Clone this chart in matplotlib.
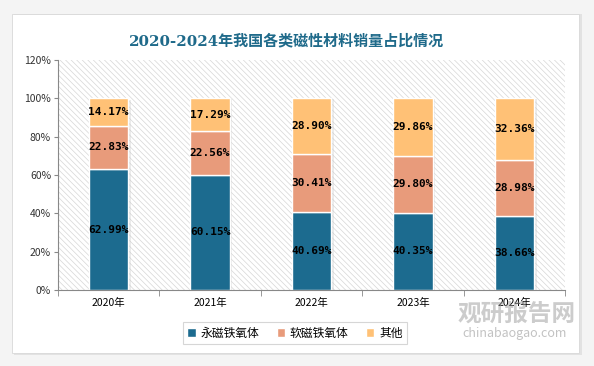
import numpy as np
import matplotlib.pyplot as plt
from matplotlib.patches import Rectangle

plt.rcParams['font.family'] = ['Noto Sans CJK SC', 'DejaVu Sans']
plt.rcParams['hatch.linewidth'] = 0.5

years = ['2020年', '2021年', '2022年', '2023年', '2024年']
yongci = [62.99, 60.15, 40.69, 40.35, 38.66]
ruanci = [22.83, 22.56, 30.41, 29.80, 28.98]
qita = [14.17, 17.29, 28.90, 29.86, 32.36]
names = ['永磁铁氧体', '软磁铁氧体', '其他']
colors = ['#1c6b8f', '#e89b7b', '#ffc176']

fig = plt.figure(figsize=(5.94, 3.66), dpi=100, facecolor='#f4f4f4')
# white card
fig.patches.append(Rectangle((14 / 594, 1 - 355 / 366), 568 / 594, 341 / 366,
                             transform=fig.transFigure, facecolor='#e2e2e2',
                             edgecolor='none', zorder=-2))
fig.patches.append(Rectangle((12 / 594, 1 - 353 / 366), 567 / 594, 339 / 366,
                             transform=fig.transFigure, facecolor='white',
                             edgecolor='#d8d8d8', lw=0.6, zorder=-1))

ax = fig.add_axes([58 / 594, 1 - 290 / 366, 507 / 594, 230 / 366])
ax.set_facecolor('none')
ax.add_patch(Rectangle((0, 0), 1, 1, transform=ax.transAxes, facecolor='white',
                       hatch='\\\\\\\\\\\\', edgecolor='#d6d6d6', lw=0, zorder=0))

x = np.arange(len(years))
w = 0.39
bottom = np.zeros(len(years))
for vals, c, n in zip([yongci, ruanci, qita], colors, names):
    vals = np.array(vals)
    # shadow
    ax.bar(x + 0.025, vals, w, bottom=bottom - 0.6, color='#c8c8c8', alpha=0.35, zorder=1)
    ax.bar(x, vals, w, bottom=bottom, color=c, edgecolor='white', lw=1.0, label=n, zorder=2)
    for xi, b, v in zip(x, bottom, vals):
        ax.text(xi, b + v / 2, f'{v:.2f}%', ha='center', va='center', fontsize=8,
                fontweight='bold', color='black', zorder=3, family='DejaVu Sans Mono')
    bottom = bottom + vals

ax.set_xlim(-0.5, 4.5)
ax.set_ylim(0, 120)
ax.set_yticks(range(0, 121, 20))
ax.set_yticklabels([f'{v}%' for v in range(0, 121, 20)], fontsize=7.5, color='#333333')
ax.set_xticks(x)
ax.set_xticklabels(years, fontsize=7.5, color='black')
ax.set_xticks(np.arange(-0.5, 4.6, 1), minor=True)
ax.tick_params(axis='x', which='major', length=0, pad=6)
ax.tick_params(axis='x', which='minor', length=4, color='#888888')
ax.tick_params(axis='y', length=3, color='#888888', pad=2)
for s in ['top', 'right']:
    ax.spines[s].set_visible(False)
for s in ['left', 'bottom']:
    ax.spines[s].set_color('#888888')

fig.text(287 / 594, 1 - 41 / 366, '2020-2024年我国各类磁性材料销量占比情况', ha='center', va='center',
         fontsize=10.8, fontweight='bold', color='#1f6a8a',
         family=['DejaVu Serif', 'Noto Sans CJK SC'])

leg = fig.legend(loc='center', bbox_to_anchor=(295 / 594, 1 - 333 / 366), ncol=3,
                 fontsize=8.5, frameon=True, handlelength=0.7, handleheight=0.7,
                 columnspacing=1.5, handletextpad=0.4, fancybox=False, borderpad=0.4)
leg.get_frame().set_edgecolor('#cccccc')
leg.get_frame().set_linewidth(0.8)

# watermark
fig.text(517 / 594, 1 - 314 / 366, '观研报告网', ha='center', va='center', fontsize=17,
         fontweight='bold', color='#9a9a9a', alpha=0.5)
fig.text(515 / 594, 1 - 333 / 366, 'chinabaogao.com', ha='center', va='center', fontsize=9,
         color='#9a9a9a', alpha=0.6)

fig.savefig('out.png', dpi=100, facecolor=fig.get_facecolor())
